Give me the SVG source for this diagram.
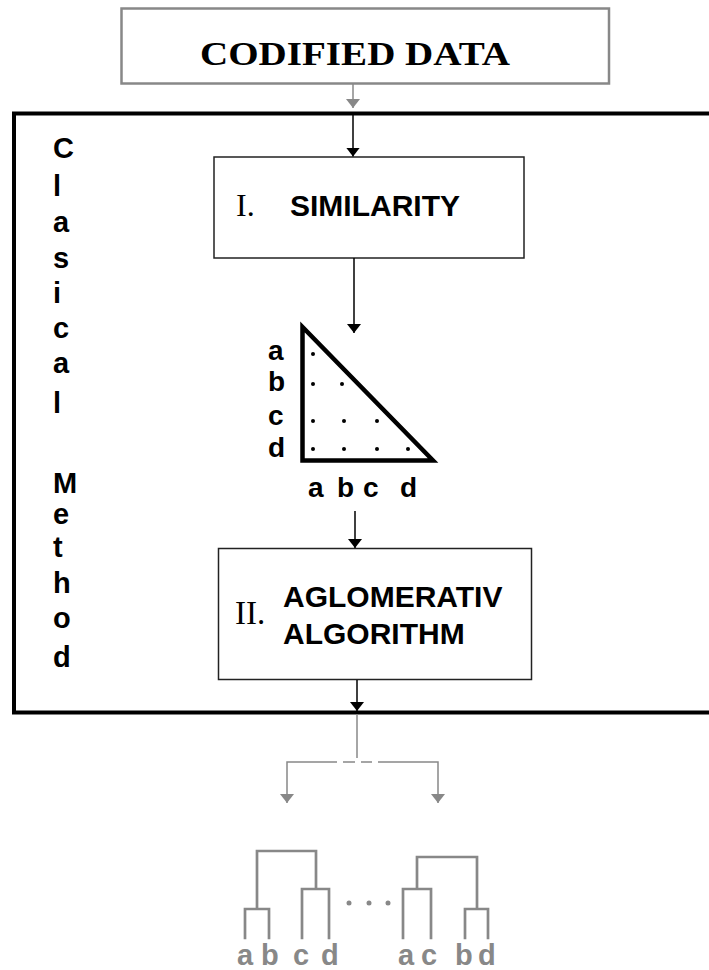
<svg xmlns="http://www.w3.org/2000/svg" width="709" height="970" viewBox="0 0 709 970">
<style>
.sans{font-family:"Liberation Sans",Arial,sans-serif;font-weight:bold;fill:#000}
.serif{font-family:"Liberation Serif","Times New Roman",serif;fill:#000}
.box{fill:#fff;stroke:#222;stroke-width:1.5}
.gbox{fill:#fff;stroke:#888;stroke-width:2.5}
.blk{stroke:#000;stroke-width:1.5;fill:none}
.gry{stroke:#888;stroke-width:1.5;fill:none}
.tree{stroke:#888;stroke-width:2.7;fill:none;stroke-linecap:square}
.glab{font-family:"Liberation Sans",Arial,sans-serif;font-weight:bold;fill:#888;font-size:29px}
</style>
<defs>
<marker id="ab" markerUnits="userSpaceOnUse" markerWidth="9" markerHeight="14" viewBox="0 0 9 14" refX="9" refY="7" orient="auto">
<path d="M0,0 L9,7 L0,14 z" fill="#000"/>
</marker>
<marker id="ag" markerUnits="userSpaceOnUse" markerWidth="9" markerHeight="14" viewBox="0 0 9 14" refX="9" refY="7" orient="auto">
<path d="M0,0 L9,7 L0,14 z" fill="#888"/>
</marker>
</defs>
<rect width="709" height="970" fill="#fff"/>

<g id="codified-data">
<rect class="gbox" x="121.5" y="8.5" width="487.5" height="75"/>
<text class="serif" x="355" y="65" font-size="33" font-weight="bold" text-anchor="middle" textLength="310" lengthAdjust="spacingAndGlyphs">CODIFIED DATA</text>
</g>

<g id="clasical-method">
<path d="M720,113.5 H14 V712.5 H720" fill="none" stroke="#000" stroke-width="4"/>
<text class="sans" font-size="29"><tspan x="53" y="158">C</tspan><tspan x="53" y="196">l</tspan><tspan x="53" y="232">a</tspan><tspan x="53" y="268">s</tspan><tspan x="53" y="303">i</tspan><tspan x="53" y="338">c</tspan><tspan x="53" y="373">a</tspan><tspan x="53" y="413">l</tspan><tspan x="53" y="493">M</tspan><tspan x="53" y="524">e</tspan><tspan x="53" y="557">t</tspan><tspan x="53" y="593">h</tspan><tspan x="53" y="628">o</tspan><tspan x="53" y="667">d</tspan></text>
</g>

<g id="similarity">
<rect class="box" x="214" y="157" width="310" height="101"/>
<text class="serif" x="236" y="216" font-size="32">I.</text>
<text class="sans" x="290" y="216" font-size="30">SIMILARITY</text>
</g>

<g id="matrix">
<polygon points="302.5,327 302.5,460.5 433,460.5" fill="none" stroke="#000" stroke-width="4.5"/>
<g fill="#000">
<circle cx="313" cy="354" r="2"/>
<circle cx="313" cy="384" r="2"/><circle cx="342" cy="384" r="2"/>
<circle cx="313" cy="421" r="2"/><circle cx="344" cy="421" r="2"/><circle cx="377" cy="421" r="2"/>
<circle cx="313" cy="449" r="2"/><circle cx="344" cy="449" r="2"/><circle cx="377" cy="449" r="2"/><circle cx="408" cy="449" r="2"/>
</g>
<text class="sans" font-size="28"><tspan x="268" y="360">a</tspan><tspan x="268" y="391">b</tspan><tspan x="268" y="425">c</tspan><tspan x="268" y="457">d</tspan></text>
<text class="sans" font-size="28" y="497"><tspan x="308">a</tspan><tspan x="337">b</tspan><tspan x="363">c</tspan><tspan x="400">d</tspan></text>
</g>

<g id="aglomerativ-algorithm">
<rect class="box" x="218.5" y="548.5" width="313" height="131"/>
<text class="serif" x="235" y="623.5" font-size="33">II.</text>
<text class="sans" x="283" y="606.5" font-size="30">AGLOMERATIV</text>
<text class="sans" x="283" y="644" font-size="30">ALGORITHM</text>
</g>

<g id="connectors">
<line class="gry" x1="353" y1="84" x2="353" y2="108" marker-end="url(#ag)"/>
<line class="blk" x1="353" y1="115" x2="353" y2="156.5" marker-end="url(#ab)"/>
<line class="blk" x1="354" y1="258" x2="354" y2="333" marker-end="url(#ab)"/>
<line class="blk" x1="355" y1="511" x2="355" y2="548" marker-end="url(#ab)"/>
<line class="blk" x1="357" y1="680" x2="357" y2="711" marker-end="url(#ab)"/>
<line class="gry" x1="357" y1="714" x2="357" y2="758"/>
<path class="gry" d="M337,762 H287 V803" marker-end="url(#ag)"/>
<path class="gry" d="M378,762 H438 V803" marker-end="url(#ag)"/>
<path class="gry" d="M343,762 H355 M361,762 H372"/>
</g>

<g id="dendrogram-abcd">
<path class="tree" d="M245,938 V909 H269 V938 M302,938 V889 H329 V938 M257,909 V851 H316 V889"/>
<text class="glab" y="965"><tspan x="237">a</tspan><tspan x="261">b</tspan><tspan x="293">c</tspan><tspan x="321">d</tspan></text>
</g>

<g id="ellipsis" fill="#888">
<circle cx="349" cy="903" r="2.5"/><circle cx="369" cy="903" r="2.5"/><circle cx="388" cy="903" r="2.5"/>
</g>

<g id="dendrogram-acbd">
<path class="tree" d="M403,938 V889 H431 V938 M465,938 V909 H488 V938 M417,889 V857 H477 V909"/>
<text class="glab" y="965"><tspan x="398">a</tspan><tspan x="421">c</tspan><tspan x="455">b</tspan><tspan x="478">d</tspan></text>
</g>
</svg>
